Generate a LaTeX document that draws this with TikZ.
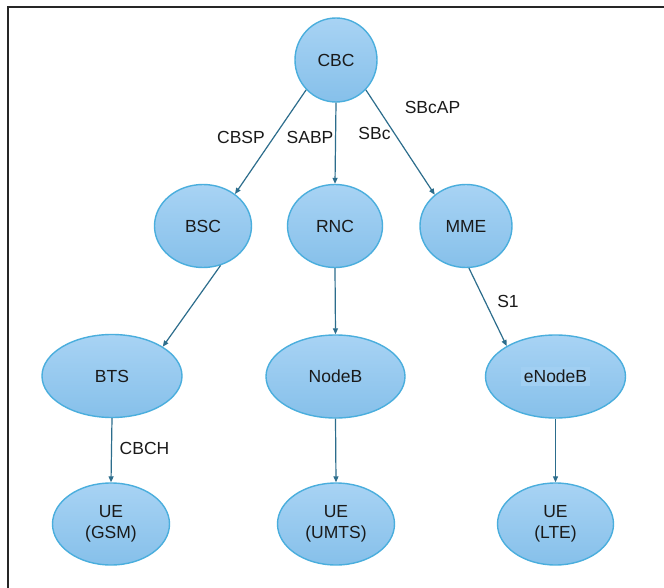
\documentclass[tikz,border=0pt]{standalone}
\usepackage{fontspec}
\setmainfont{Liberation Sans}
\usetikzlibrary{shapes.geometric,arrows.meta}
\definecolor{nodetop}{HTML}{A8D3F4}
\definecolor{nodebot}{HTML}{86C0EA}
\definecolor{nodeborder}{HTML}{4AAEDD}
\definecolor{arrowcol}{HTML}{2C6D8C}
\definecolor{txt}{HTML}{1A1A1A}
\tikzset{
  bubble/.style={ellipse, draw=nodeborder, line width=1.4pt, top color=nodetop, bottom color=nodebot,
    inner sep=0pt, text=txt, font=\fontsize{17.5}{21}\selectfont, align=center},
  conn/.style={draw=arrowcol, line width=1.2pt, -{Triangle[length=6pt,width=5pt]}},
  lbl/.style={text=txt, font=\fontsize{17.5}{20}\selectfont, inner sep=0pt},
}
\begin{document}
\begin{tikzpicture}[x=1pt,y=-1pt]
\useasboundingbox (0,0) rectangle (664,588);
\fill[white] (0,0) rectangle (664,588);
\draw[line width=2pt, color=black!85] (8,588) -- (8,7) -- (664,7);

\node[bubble, minimum width=82pt, minimum height=84pt] (cbc) at (336,60) {CBC};
\node[bubble, minimum width=97pt, minimum height=83pt] (bsc) at (203,226) {BSC};
\node[bubble, minimum width=95pt, minimum height=83pt] (rnc) at (335,226) {RNC};
\node[bubble, minimum width=92pt, minimum height=83pt] (mme) at (466,226) {MME};
\node[bubble, minimum width=140pt, minimum height=83pt] (bts) at (112,376) {BTS};
\node[bubble, minimum width=139pt, minimum height=83pt] (nodeb) at (335.5,376.5) {NodeB};
\node[bubble, minimum width=140pt, minimum height=83pt] (enodeb) at (555.5,376.5) {};
\node[fill=nodetop!80!nodebot, inner sep=3pt, text=txt, font=\fontsize{17.5}{21}\selectfont] (enodebtxt) at (enodeb.center) {eNodeB};
\node[bubble, minimum width=117pt, minimum height=82pt] (ue1) at (111,524) {UE\\(GSM)};
\node[bubble, minimum width=117pt, minimum height=82pt] (ue2) at (336,524) {UE\\(UMTS)};
\node[bubble, minimum width=116pt, minimum height=82pt] (ue3) at (555.5,524) {UE\\(LTE)};

\draw[conn] (cbc.225) -- (bsc.45);
\draw[conn] (cbc.south) -- (rnc.north);
\draw[conn] (cbc.-45) -- (mme.135);
\draw[conn] (bsc.-66) -- (bts.30);
\draw[conn] (rnc.south) -- (nodeb.north);
\draw[conn] (mme.-86) -- (enodeb.148);
\draw[conn] (bts.south) -- (ue1.north);
\draw[conn] (nodeb.south) -- (ue2.north);
\draw[conn] (enodeb.south) -- (ue3.north);

\node[lbl] (l1) at (241,137) {CBSP};
\node[lbl] (l2) at (310,137) {SABP};
\node[lbl] (l3) at (374.5,133) {SBc};
\node[lbl] (l4) at (432.5,107) {SBcAP};
\node[lbl] (l5) at (508,301) {S1};
\node[lbl] (l6) at (144.5,448) {CBCH};
\end{tikzpicture}
\end{document}
